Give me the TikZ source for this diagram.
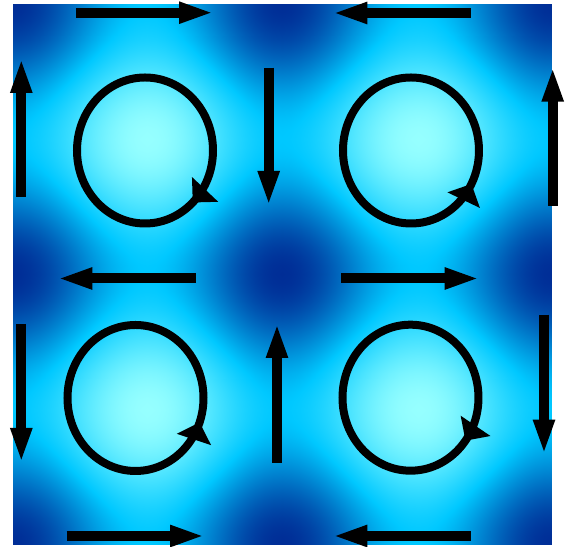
\documentclass[tikz,border=0pt]{standalone}
\usepackage{tikz}
\usetikzlibrary{arrows.meta,decorations.markings}
\usepackage{pgfplots}
\pgfplotsset{compat=1.18}

\begin{document}
\begin{tikzpicture}[
    x=0.02cm, y=0.02cm,
    flow/.style={
        line width=0.2cm,
        -{Triangle[length=0.7cm, width=0.39cm]}
    },
    vortex/.style={line width=0.16cm},
    ccw/.style={
        vortex,
        postaction={decorate, decoration={markings,
            mark=at position #1 with {\arrow{Triangle[length=0.36cm, width=0.7cm]}}}}
    },
    cw/.style={
        vortex,
        postaction={decorate, decoration={markings,
            mark=at position #1 with {\arrowreversed{Triangle[length=0.36cm, width=0.7cm]}}}}
    }
]

\useasboundingbox (0,0) rectangle (566,547);

% field intensity
\begin{axis}[
    at={(0.246cm,0.04cm)}, anchor=south west,
    scale only axis, width=10.808cm, height=10.834cm,
    hide axis, view={0}{90},
    xmin=0, xmax=2, ymin=0, ymax=2,
    colormap={vortexmap}{rgb255=(0,45,150) rgb255=(0,200,255) rgb255=(150,255,255)},
    point meta min=0, point meta max=2
]
\addplot3[surf, shader=interp, domain=0:2, y domain=0:2, samples=61]
    {sin(180*x)^2 + sin(180*y)^2};
\end{axis}

% circulation in each cell
\draw[cw=0.871]  (145,396.5) ellipse [x radius=68, y radius=73];
\draw[ccw=0.922] (411,396.5) ellipse [x radius=68, y radius=73];
\draw[ccw=0.944] (135.5,149) ellipse [x radius=68, y radius=73];
\draw[cw=0.897]  (410.5,149.3) ellipse [x radius=68, y radius=73];

% horizontal flow
\draw[flow] (76,534.3) -- (214,534.3);
\draw[flow] (470.7,534) -- (332.3,534);
\draw[flow] (196,268.5) -- (57.3,268.5);
\draw[flow] (341.3,268.5) -- (479.7,268.5);
\draw[flow] (66.7,11) -- (205,11);
\draw[flow] (470.7,11) -- (332.3,11);

% vertical flow
\draw[flow] (21.3,350) -- (21.3,489);
\draw[flow] (268.7,479.3) -- (268.7,341);
\draw[flow] (552.7,341.3) -- (552.7,480.3);
\draw[flow] (21.3,223) -- (21.3,84);
\draw[flow] (277,84) -- (277,224);
\draw[flow] (544,232.3) -- (544,92.3);

\end{tikzpicture}
\end{document}
